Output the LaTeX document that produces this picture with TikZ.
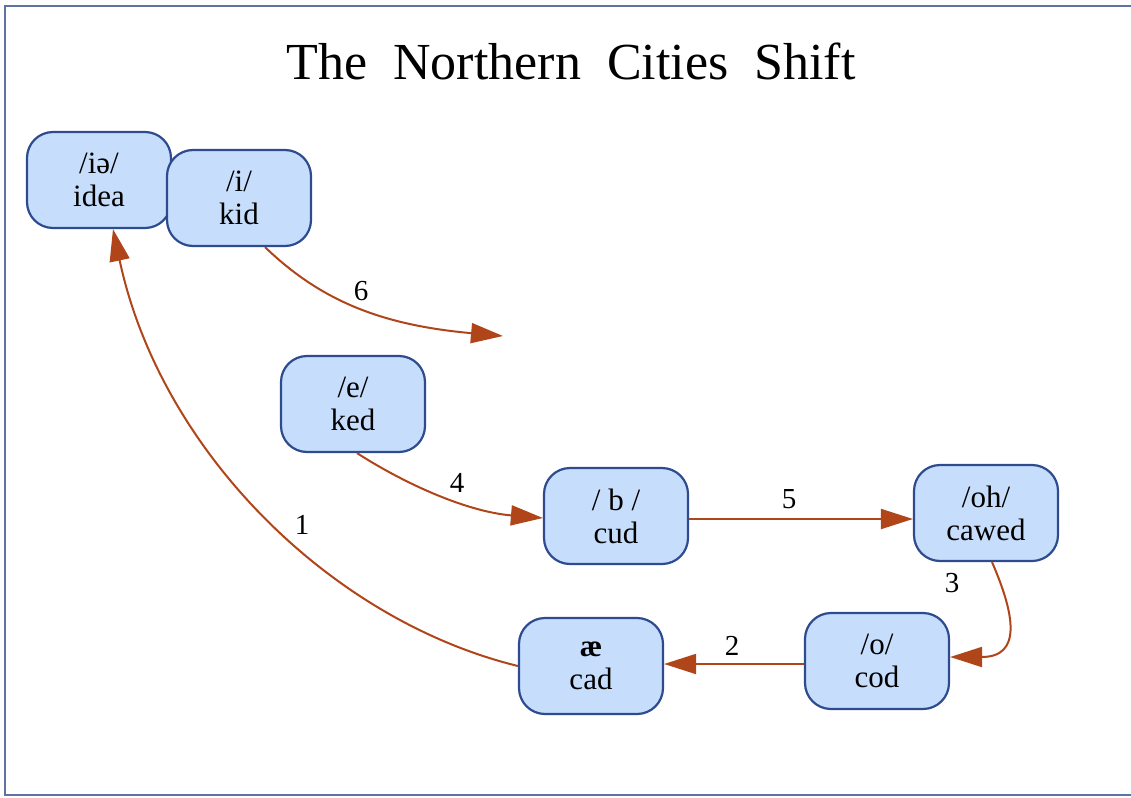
\documentclass[tikz,border=0pt]{standalone}
\usepackage{fontspec}
\setmainfont{Liberation Serif}
\usetikzlibrary{arrows.meta}
\definecolor{framecol}{HTML}{5F73A3}
\definecolor{boxline}{HTML}{2D4B8E}
\definecolor{boxfill}{HTML}{C6DEFC}
\definecolor{shiftcol}{HTML}{B0451A}
\tikzset{
    vowel/.style={draw=boxline, fill=boxfill, line width=2.2pt, rounded corners=26pt,
        minimum width=144pt, minimum height=96pt, align=center,
        font=\fontsize{31}{33}\selectfont},
    shiftarrow/.style={draw=shiftcol, line width=2pt, -{Triangle[length=32pt,width=20pt]}},
    elabel/.style={font=\fontsize{29}{31}\selectfont, inner sep=2pt}
}

\begin{document}
\begin{tikzpicture}[x=1pt,y=-1pt]
        \useasboundingbox (0,0) rectangle (1131,797);
        \draw[framecol, line width=2pt] (5,6) rectangle (1145,795);
        \node[font=\fontsize{52}{56}\selectfont] (title) at (571,61) {The\ \ Northern\ \ Cities\ \ Shift};
        % the vowels
        \node[vowel] (idea) at (99,180) {/iə/\\idea};
        \node[vowel] (kid) at (239,198) {/i/\\kid};
        \node[vowel] (ked) at (353,404) {/e/\\ked};
        \node[vowel] (cud) at (616,516) {/ b /\\cud};
        \node[vowel] (cawed) at (986,513) {/oh/\\cawed};
        \node[vowel] (cod) at (877,661) {/o/\\cod};
        \node[vowel] (cad) at (591,666) {\textbf{æ}\\cad};
        \coordinate (six) at (503,336);
        % the shifts
        \draw[shiftarrow] (cad.west) .. controls (330,620) and (160,450) .. (idea.south -| 113,0)
            node[elabel] at (302,525) {1};
        \draw[shiftarrow] (cod.west |- 0,664) -- (cad.east |- 0,664)
            node[elabel] at (732,646) {2};
        \draw[shiftarrow] (cawed.south -| 992,0) .. controls (1015,615) and (1022,657) .. (cod.east |- 0,657)
            node[elabel] at (952,583) {3};
        \draw[shiftarrow] (ked.south -| 357,0) .. controls (410,487) and (470,512) .. (cud.west |- 0,518)
            node[elabel] at (457,483) {4};
        \draw[shiftarrow] (cud.east |- 0,519) -- (cawed.west |- 0,519)
            node[elabel] at (789,499) {5};
        \draw[shiftarrow] (kid.south -| 265,0) .. controls (320,300) and (380,325) .. (six)
            node[elabel] at (361,291) {6};
    \end{tikzpicture}
\end{document}
